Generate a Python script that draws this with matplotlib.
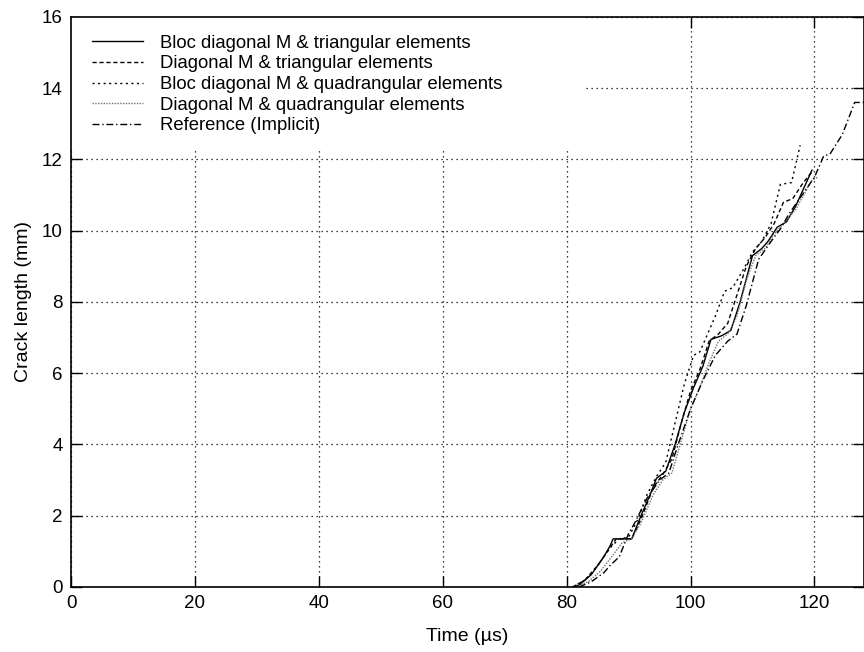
import matplotlib
matplotlib.use("Agg")
import matplotlib.pyplot as plt
from matplotlib.patches import Rectangle

# crack length vs time, five runs
t_bloc_tri = [81, 82, 83, 84, 85, 86, 87, 87.5, 90.5, 92, 93.5, 94.5, 96, 97.5, 99, 100.5,
              102, 103.3, 105, 106.5, 108, 110, 111.5, 112.5, 114, 115.5, 117, 119.6]
a_bloc_tri = [0, 0.05, 0.2, 0.35, 0.6, 0.85, 1.15, 1.35, 1.35, 2.0, 2.6, 3.05, 3.25, 4.0, 4.9, 5.6,
              6.2, 6.95, 7.05, 7.2, 8.0, 9.3, 9.5, 9.7, 10.1, 10.25, 10.7, 11.7]

t_diag_tri = [81, 83, 85, 87, 88, 90.5, 92, 94, 95.5, 97, 98.5, 100, 101.5, 103, 104.5, 106,
              107.5, 109, 110.5, 112, 113.5, 115, 116.5, 118, 119.8]
a_diag_tri = [0, 0.2, 0.6, 1.1, 1.35, 1.35, 1.9, 2.8, 3.15, 3.6, 4.6, 5.5, 6.1, 6.9, 7.1, 7.4,
              8.2, 9.0, 9.5, 9.8, 10.2, 10.8, 10.9, 11.3, 11.7]

t_bloc_quad = [81, 83, 85, 87, 88.5, 90, 91.5, 93, 94.5, 96, 97.5, 99, 100.5, 101.5, 102.5, 104,
               105.5, 106.8, 108.5, 110, 111.5, 113, 114.5, 116.3, 117.7]
a_bloc_quad = [0, 0.2, 0.6, 1.1, 1.35, 1.4, 1.9, 2.6, 3.1, 3.5, 4.6, 5.7, 6.5, 6.6, 7.0, 7.6,
               8.3, 8.4, 8.9, 9.4, 9.7, 10.2, 11.3, 11.35, 12.4]

t_diag_quad = [81.5, 83.5, 85.5, 87.5, 89, 90.5, 92, 94, 95.5, 97, 98.5, 100, 101.5, 103, 104.5,
               106, 107.5, 109, 110.5, 112, 113.5, 115, 117, 119.5, 120.5]
a_diag_quad = [0, 0.15, 0.45, 0.9, 1.25, 1.35, 1.8, 2.6, 3.0, 3.2, 4.1, 5.0, 5.6, 6.3, 6.9,
               7.1, 7.6, 8.6, 9.3, 9.5, 9.9, 10.2, 10.6, 11.4, 11.5]

t_ref = [82, 84, 86, 87, 88.5, 90, 91, 93, 95, 96.5, 98, 100, 102, 104, 106, 107.5, 109, 111,
         113, 114.5, 116, 118, 120, 121.5, 122.5, 124.5, 126.5, 128]
a_ref = [0, 0.15, 0.4, 0.6, 0.85, 1.5, 1.8, 2.5, 3.0, 3.2, 4.0, 5.0, 5.8, 6.5, 6.9, 7.1, 7.9, 9.2,
         9.7, 10.05, 10.5, 11.0, 11.5, 12.1, 12.15, 12.7, 13.6, 13.6]

xticks = [0, 20, 40, 60, 80, 100, 120]
yticks = [0, 2, 4, 6, 8, 10, 12, 14, 16]

plt.rcParams["font.family"] = ["Liberation Sans", "DejaVu Sans"]

fig = plt.figure(figsize=(8.64, 6.52), dpi=100)
ax = fig.add_axes([0.0822, 0.0997, 0.9178, 0.8743])

ax.plot(t_bloc_tri, a_bloc_tri, color="black", lw=1.0, ls="-",
        label="Bloc diagonal M & triangular elements")
ax.plot(t_diag_tri, a_diag_tri, color="black", lw=1.0, ls=(0, (3, 2)),
        label="Diagonal M & triangular elements")
ax.plot(t_bloc_quad, a_bloc_quad, color="black", lw=1.0, ls=(0, (1.5, 2.5)),
        label="Bloc diagonal M & quadrangular elements")
ax.plot(t_diag_quad, a_diag_quad, color="0.45", lw=1.0, ls=(0, (1, 1)),
        label="Diagonal M & quadrangular elements")
ax.plot(t_ref, a_ref, color="black", lw=1.0, ls=(0, (5, 2, 1, 2)),
        label="Reference (Implicit)")

ax.set_xlim(0, 128)
ax.set_ylim(0, 16)
ax.set_xticks(xticks)
ax.set_yticks(yticks)
ax.set_axisbelow(True)
ax.grid(True, color="black", ls=(0, (1, 3)), lw=0.9)

# legend area blanks the grid behind it
ax.add_patch(Rectangle((0, 0.767), 0.647, 0.233, transform=ax.transAxes,
                       facecolor="white", edgecolor="none", zorder=1))

ax.tick_params(direction="in", length=8, width=1, top=True, right=True, labelsize=13.5, pad=6)
for s in ax.spines.values():
    s.set_linewidth(1.2)

ax.set_xlabel("Time (µs)", fontsize=14, labelpad=11)
ax.set_ylabel("Crack length (mm)", fontsize=14, labelpad=7)

ax.legend(loc="upper left", bbox_to_anchor=(0.006, 0.998), frameon=False, fontsize=13.3,
          handlelength=2.75, handletextpad=0.9, labelspacing=0.2)

fig.savefig("out.png", dpi=100)
